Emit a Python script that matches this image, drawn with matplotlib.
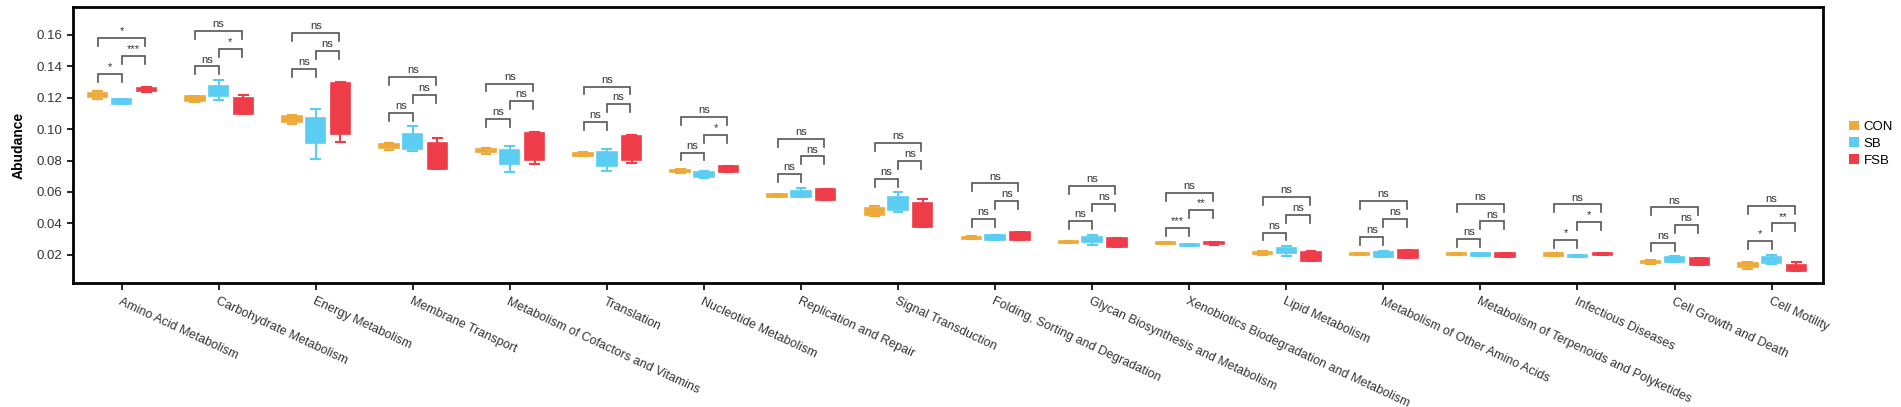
import matplotlib.pyplot as plt
import numpy as np
from matplotlib.patches import Patch

plt.rcParams["font.family"] = ["Liberation Sans", "DejaVu Sans"]

CATEGORIES = [
    "Amino Acid Metabolism",
    "Carbohydrate Metabolism",
    "Energy Metabolism",
    "Membrane Transport",
    "Metabolism of Cofactors and Vitamins",
    "Translation",
    "Nucleotide Metabolism",
    "Replication and Repair",
    "Signal Transduction",
    "Folding, Sorting and Degradation",
    "Glycan Biosynthesis and Metabolism",
    "Xenobiotics Biodegradation and Metabolism",
    "Lipid Metabolism",
    "Metabolism of Other Amino Acids",
    "Metabolism of Terpenoids and Polyketides",
    "Infectious Diseases",
    "Cell Growth and Death",
    "Cell Motility",
]

GROUPS = ["CON", "SB", "FSB"]

# five-number summaries per category: (min, q1, median, q3, max)
CON_STATS = [
    (0.1194, 0.1203, 0.1215, 0.1228, 0.1242),
    (0.1175, 0.1178, 0.1192, 0.1208, 0.1211),
    (0.1033, 0.1048, 0.1065, 0.1085, 0.1090),
    (0.0866, 0.0879, 0.0893, 0.0908, 0.0911),
    (0.0842, 0.0857, 0.0866, 0.0876, 0.0879),
    (0.0828, 0.0830, 0.0840, 0.0850, 0.0852),
    (0.0720, 0.0724, 0.0732, 0.0740, 0.0745),
    (0.0565, 0.0567, 0.0576, 0.0585, 0.0587),
    (0.0444, 0.0455, 0.0477, 0.0498, 0.0512),
    (0.0300, 0.0301, 0.0309, 0.0316, 0.0317),
    (0.0272, 0.0273, 0.0279, 0.0285, 0.0286),
    (0.0266, 0.0267, 0.0275, 0.0283, 0.0284),
    (0.0200, 0.0203, 0.0211, 0.0219, 0.0222),
    (0.0200, 0.0201, 0.0206, 0.0211, 0.0212),
    (0.0197, 0.0198, 0.0204, 0.0210, 0.0212),
    (0.0194, 0.0195, 0.0201, 0.0208, 0.0209),
    (0.0143, 0.0146, 0.0155, 0.0163, 0.0167),
    (0.0110, 0.0119, 0.0132, 0.0146, 0.0155),
]

SB_STATS = [
    (0.1157, 0.1160, 0.1170, 0.1190, 0.1195),
    (0.1183, 0.1213, 0.1240, 0.1274, 0.1314),
    (0.0809, 0.0910, 0.0990, 0.1073, 0.1128),
    (0.0862, 0.0874, 0.0920, 0.0972, 0.1020),
    (0.0724, 0.0779, 0.0820, 0.0868, 0.0895),
    (0.0736, 0.0768, 0.0810, 0.0853, 0.0874),
    (0.0690, 0.0694, 0.0712, 0.0730, 0.0735),
    (0.0565, 0.0570, 0.0588, 0.0609, 0.0628),
    (0.0470, 0.0487, 0.0525, 0.0567, 0.0599),
    (0.0292, 0.0295, 0.0309, 0.0324, 0.0326),
    (0.0265, 0.0282, 0.0298, 0.0314, 0.0328),
    (0.0254, 0.0255, 0.0260, 0.0266, 0.0267),
    (0.0190, 0.0208, 0.0224, 0.0240, 0.0256),
    (0.0186, 0.0188, 0.0204, 0.0220, 0.0222),
    (0.0190, 0.0191, 0.0202, 0.0213, 0.0214),
    (0.0186, 0.0187, 0.0193, 0.0200, 0.0201),
    (0.0152, 0.0155, 0.0170, 0.0186, 0.0190),
    (0.0138, 0.0148, 0.0167, 0.0186, 0.0201),
]

FSB_STATS = [
    (0.1238, 0.1240, 0.1252, 0.1265, 0.1268),
    (0.1094, 0.1095, 0.1150, 0.1200, 0.1217),
    (0.0917, 0.0967, 0.1130, 0.1295, 0.1300),
    (0.0745, 0.0747, 0.0830, 0.0912, 0.0944),
    (0.0781, 0.0805, 0.0890, 0.0975, 0.0979),
    (0.0783, 0.0805, 0.0880, 0.0957, 0.0960),
    (0.0726, 0.0728, 0.0746, 0.0764, 0.0766),
    (0.0546, 0.0548, 0.0584, 0.0618, 0.0620),
    (0.0377, 0.0379, 0.0455, 0.0530, 0.0555),
    (0.0292, 0.0293, 0.0318, 0.0342, 0.0343),
    (0.0250, 0.0251, 0.0278, 0.0304, 0.0309),
    (0.0265, 0.0266, 0.0274, 0.0281, 0.0282),
    (0.0161, 0.0162, 0.0190, 0.0216, 0.0222),
    (0.0178, 0.0179, 0.0204, 0.0228, 0.0229),
    (0.0184, 0.0185, 0.0199, 0.0213, 0.0214),
    (0.0196, 0.0197, 0.0203, 0.0208, 0.0209),
    (0.0133, 0.0134, 0.0155, 0.0176, 0.0177),
    (0.0094, 0.0095, 0.0115, 0.0136, 0.0152),
]

SIG_CON_SB = ["*", "ns", "ns", "ns", "ns", "ns", "ns", "ns", "ns",
              "ns", "ns", "***", "ns", "ns", "ns", "*", "ns", "*"]
SIG_SB_FSB = ["***", "*", "ns", "ns", "ns", "ns", "*", "ns", "ns",
              "ns", "ns", "**", "ns", "ns", "ns", "*", "ns", "**"]
SIG_CON_FSB = ["*", "ns", "ns", "ns", "ns", "ns", "ns", "ns", "ns",
               "ns", "ns", "ns", "ns", "ns", "ns", "ns", "ns", "ns"]

COLORS = {"CON": "#EDAA3A", "SB": "#5CCDF2", "FSB": "#EE3D48"}
OFFSETS = {"CON": -0.245, "SB": 0.0, "FSB": 0.255}
BOX_WIDTH = 0.20
BRACKET_COLOR = "#555555"


def _to_bxp(stats_rows):
    out = []
    for lo, q1, med, q3, hi in stats_rows:
        out.append({"whislo": lo, "q1": q1, "med": med, "q3": q3,
                    "whishi": hi, "fliers": []})
    return out


def _bracket(ax, x0, x1, y, label, tip=0.005):
    ax.plot([x0, x0, x1, x1], [y - tip, y, y, y - tip],
            color=BRACKET_COLOR, linewidth=1.2, solid_joinstyle="miter",
            zorder=2)
    ax.text((x0 + x1) / 2, y + 0.0012, label, ha="center", va="bottom",
            fontsize=8, color="#333333")


fig = plt.figure(figsize=(19.01, 4.07), dpi=100)
ax = fig.add_axes([0.0384, 0.3047, 0.9206, 0.6781])

x = np.arange(len(CATEGORIES))
all_stats = {"CON": CON_STATS, "SB": SB_STATS, "FSB": FSB_STATS}

for grp in GROUPS:
    col = COLORS[grp]
    ax.bxp(
        _to_bxp(all_stats[grp]),
        positions=x + OFFSETS[grp],
        widths=BOX_WIDTH,
        capwidths=0.09,
        patch_artist=True,
        showfliers=False,
        boxprops=dict(facecolor=col, edgecolor=col, linewidth=1.2),
        whiskerprops=dict(color=col, linewidth=1.5),
        capprops=dict(color=col, linewidth=1.5),
        medianprops=dict(color=col, linewidth=0.8),
        manage_ticks=False,
        zorder=3,
    )

for i in range(len(CATEGORIES)):
    top = max(CON_STATS[i][4], SB_STATS[i][4], FSB_STATS[i][4])
    base = top + 0.0085
    step = 0.0113
    xc, xs, xf = i - 0.24, i, i + 0.24
    _bracket(ax, xc, xs, base, SIG_CON_SB[i])
    _bracket(ax, xs, xf, base + step, SIG_SB_FSB[i])
    _bracket(ax, xc, xf, base + 2 * step, SIG_CON_FSB[i])

ax.set_xlim(-0.5, len(CATEGORIES) - 0.47)
ax.set_ylim(0.002, 0.1778)
ax.set_yticks(np.arange(0.02, 0.161, 0.02))
ax.set_yticklabels([f"{v:.2f}" for v in np.arange(0.02, 0.161, 0.02)])
ax.set_xticks(x)
ax.set_xticklabels(CATEGORIES, rotation=-25, ha="left", va="top",
                   rotation_mode="anchor", fontsize=9, color="#333333")
ax.tick_params(axis="y", labelsize=9.5, labelcolor="#333333", length=4,
               width=1.2)
ax.tick_params(axis="x", length=5, width=1.2, pad=4)
ax.set_ylabel("Abudance", fontsize=10, fontweight="bold", labelpad=8)

for spine in ax.spines.values():
    spine.set_linewidth(2.0)
    spine.set_color("black")

handles = [Patch(facecolor=COLORS[g], edgecolor="none", label=g)
           for g in GROUPS]
ax.legend(handles=handles, loc="center left", bbox_to_anchor=(1.012, 0.505),
          frameon=False, fontsize=9.5, handlelength=0.7, handleheight=0.7,
          handletextpad=0.4, labelspacing=0.35, borderaxespad=0.0)

fig.savefig("out.png", dpi=100)
